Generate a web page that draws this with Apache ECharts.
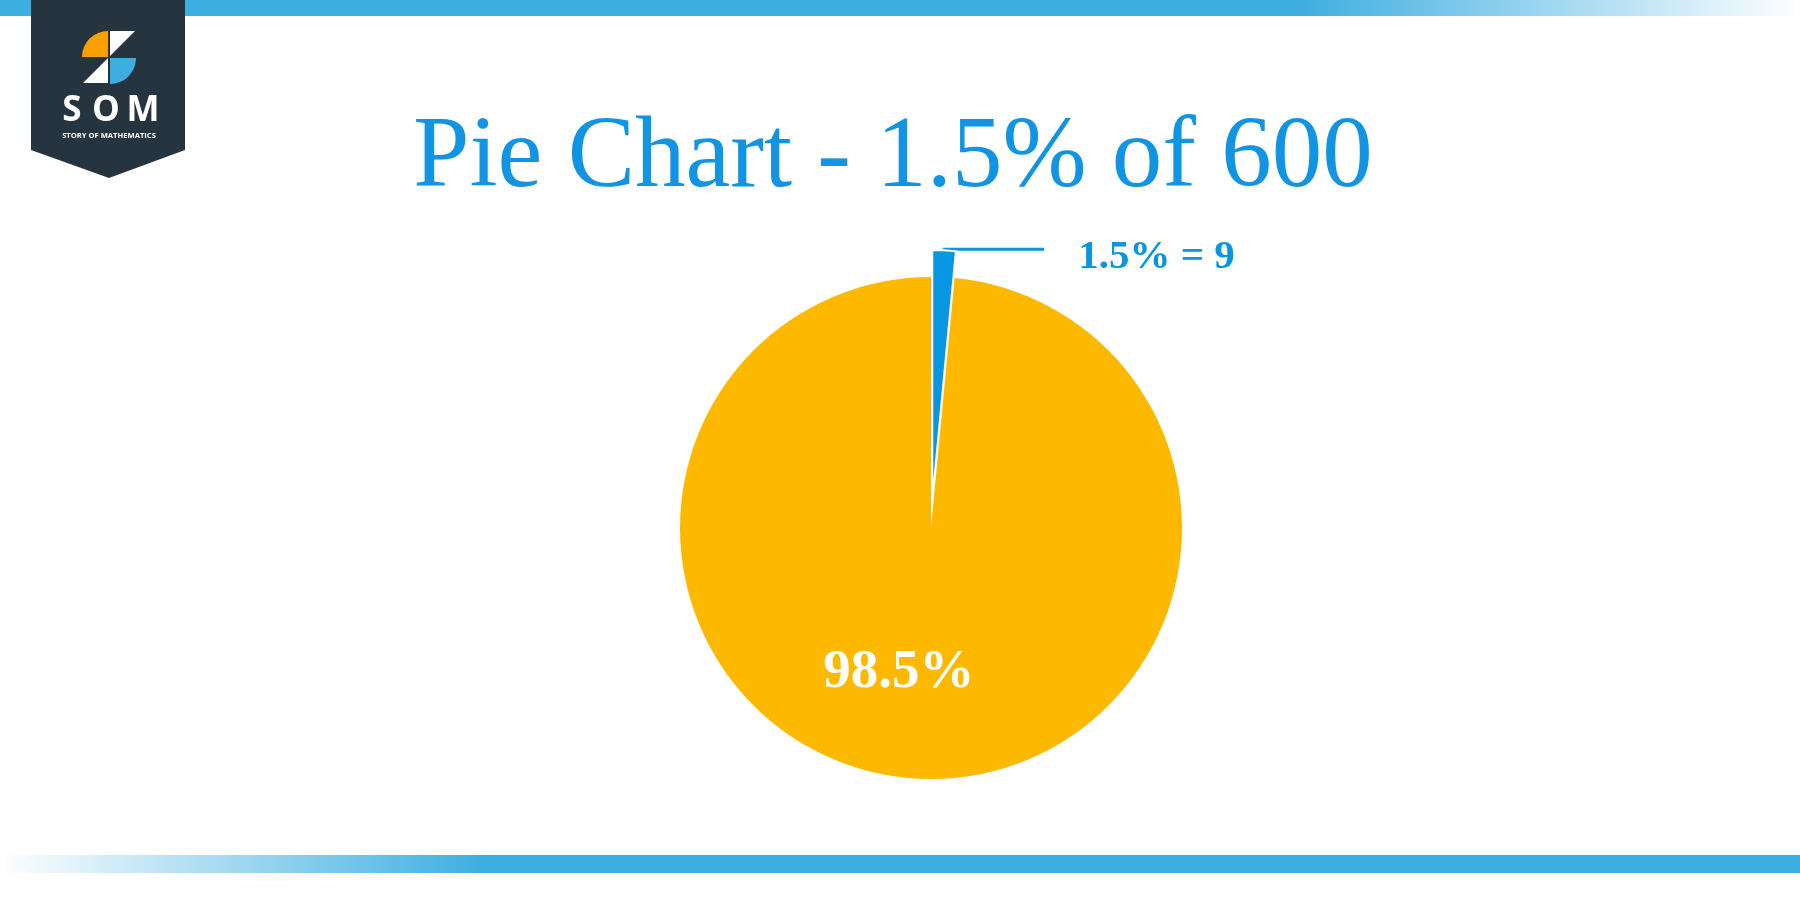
<!DOCTYPE html>
<html>
<head>
<meta charset="utf-8">
<script src="https://cdn.jsdelivr.net/npm/echarts@6/dist/echarts.min.js"></script>
<style>html,body{margin:0;padding:0;background:#fff;}#c{width:1800px;height:900px;}</style>
</head>
<body>
<div id="c"></div>
<script>
const titleText = 'Pie Chart - 1.5% of 600';
const categories = ['1.5%', '98.5%'];
const values = [9, 591];
const labelTexts = ['1.5% = 9', '98.5%'];
const colors = ['#0895E1', '#FDB900'];

const chart = echarts.init(document.getElementById('c'), null, {renderer: 'canvas'});

const pieData = categories.map((c, i) => ({
  name: c,
  value: values[i],
  selected: i === 0,
  itemStyle: {color: colors[i], borderColor: '#fff', borderWidth: i === 0 ? 2 : 0},
  label: i === 0 ? {
    position: 'outside',
    formatter: '{t|' + labelTexts[i] + '}',
    rich: {
      t: {
        color: '#0895E1',
        fontFamily: 'Liberation Serif',
        fontWeight: 'bold',
        fontSize: 41,
        padding: [16, 0, 0, 0]
      }
    },
    distanceToLabelLine: 34
  } : {
    position: 'inside',
    formatter: labelTexts[i],
    color: '#fff',
    fontFamily: 'Liberation Serif',
    fontWeight: 'bold',
    fontSize: 55,
    offset: [-26, 16]
  },
  labelLine: i === 0 ? {show: true, length: 1, length2: 100, lineStyle: {color: '#0895E1', width: 3}} : {show: false}
}));

chart.setOption({
  backgroundColor: '#fff',
  animation: false,
  title: {
    text: titleText,
    left: 888,
    top: 104,
    textAlign: 'center',
    textStyle: {fontFamily: 'Liberation Serif', fontWeight: 'normal', fontSize: 101, color: '#1194E3'}
  },
  graphic: [
    {type: 'rect', shape: {x: 0, y: 0, width: 1800, height: 16}, style: {fill: new echarts.graphic.LinearGradient(0, 0, 1, 0, [{offset: 0, color: '#3DAEE0'}, {offset: 0.72, color: '#3DAEE0'}, {offset: 1, color: '#ffffff'}])}, silent: true, z: 1},
    {type: 'rect', shape: {x: 0, y: 855, width: 1800, height: 18}, style: {fill: new echarts.graphic.LinearGradient(0, 0, 1, 0, [{offset: 0, color: '#ffffff'}, {offset: 0.27, color: '#3DAEE0'}, {offset: 1, color: '#3DAEE0'}])}, silent: true, z: 1},
    {type: 'polygon', shape: {points: [[31, 0], [185, 0], [185, 150], [109, 178], [31, 150]]}, style: {fill: '#263440'}, silent: true, z: 2},
    {type: 'sector', shape: {cx: 108, cy: 57, r: 26, r0: 0, startAngle: Math.PI, endAngle: Math.PI * 1.5, clockwise: true}, style: {fill: '#F7A000'}, silent: true, z: 3},
    {type: 'polygon', shape: {points: [[110, 31], [135, 31], [110, 56]]}, style: {fill: '#ffffff'}, silent: true, z: 3},
    {type: 'polygon', shape: {points: [[83, 83], [108, 58], [108, 83]]}, style: {fill: '#ffffff'}, silent: true, z: 3},
    {type: 'sector', shape: {cx: 110, cy: 58, r: 26, r0: 0, startAngle: 0, endAngle: Math.PI * 0.5, clockwise: true}, style: {fill: '#3DAEE0'}, silent: true, z: 3},
    {type: 'text', style: {x: 72, y: 111, text: 'S', fill: '#ffffff', font: 'bold 35px "Open Sans"', textAlign: 'center', textVerticalAlign: 'middle'}, silent: true, z: 3},
    {type: 'text', style: {x: 106, y: 111, text: 'O', fill: '#ffffff', font: 'bold 35px "Open Sans"', textAlign: 'center', textVerticalAlign: 'middle'}, silent: true, z: 3},
    {type: 'text', style: {x: 143, y: 111, text: 'M', fill: '#ffffff', font: 'bold 35px "Open Sans"', textAlign: 'center', textVerticalAlign: 'middle'}, silent: true, z: 3},
    {type: 'text', style: {x: 109, y: 136, text: 'STORY OF MATHEMATICS', fill: '#ffffff', font: 'bold 7.6px "Open Sans"', textAlign: 'center', textVerticalAlign: 'middle'}, silent: true, z: 3}
  ],
  series: [{
    type: 'pie',
    center: [931, 528],
    radius: [0, 251],
    startAngle: 90,
    clockwise: true,
    selectedMode: 'single',
    selectedOffset: 27,
    avoidLabelOverlap: false,
    emphasis: {disabled: true},
    data: pieData
  }]
});
</script>
</body>
</html>
